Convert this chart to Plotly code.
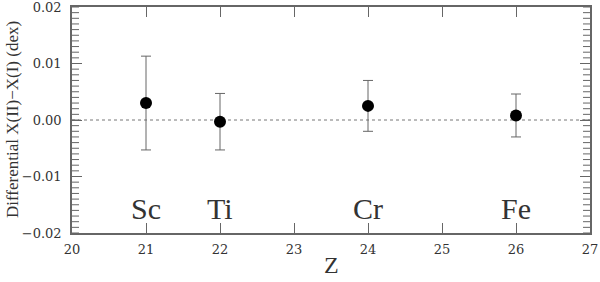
import plotly.graph_objects as go

elements = ["Sc", "Ti", "Cr", "Fe"]
z_values = [21, 22, 24, 26]
diff_values = [0.0030, -0.0003, 0.0025, 0.0008]
err_plus = [0.0083, 0.0050, 0.0045, 0.0038]
err_minus = [0.0083, 0.0050, 0.0045, 0.0038]
label_y = -0.0156

x_tick_start, x_tick_step = 20, 1
y_tick_start, y_tick_step, y_minor_step = 0.0, 0.01, 0.001
x_range = [20, 27]
y_range = [-0.02, 0.02]

tick_font = "DejaVu Serif"
label_font = "Liberation Serif"
axis_color = "#666666"
text_color = "#333333"

fig = go.Figure()

# minor tick marks along both vertical frame edges (clipped to the inside)
n_minor = int(round((y_range[1] - y_range[0]) / y_minor_step)) + 1
minor_y = [y_range[0] + i * y_minor_step for i in range(n_minor)]
fig.add_trace(go.Scatter(
    x=[x_range[0]] * n_minor + [x_range[1]] * n_minor,
    y=minor_y + minor_y,
    mode="markers", cliponaxis=True,
    marker=dict(symbol="line-ew", size=10, color=axis_color,
                line=dict(color=axis_color, width=1)),
    showlegend=False, hoverinfo="skip",
))

fig.add_trace(go.Scatter(
    x=z_values, y=diff_values,
    mode="markers",
    marker=dict(color="black", size=12),
    error_y=dict(type="data", symmetric=False, array=err_plus, arrayminus=err_minus,
                 color="#666666", thickness=1, width=5),
    showlegend=False,
))

fig.add_hline(y=0, line=dict(color="#777777", width=1, dash="dot"), layer="below")

for el, z in zip(elements, z_values):
    fig.add_annotation(x=z, y=label_y, text=el, showarrow=False,
                       font=dict(family=label_font, size=30, color=text_color),
                       yanchor="middle", xanchor="center")

# axis titles
fig.add_annotation(xref="paper", yref="paper", x=0.5, y=0, yshift=-32,
                   text="Z", showarrow=False, xanchor="center", yanchor="middle",
                   font=dict(family=label_font, size=24, color=text_color))
fig.add_annotation(xref="paper", yref="paper", x=0, y=0.5, xshift=-60,
                   text="Differential X(II)\u2212X(I) (dex)", textangle=-90,
                   showarrow=False, xanchor="center", yanchor="middle",
                   font=dict(family=label_font, size=17, color=text_color))

fig.update_layout(
    width=600, height=282,
    margin=dict(l=72, r=10, t=7, b=49),
    plot_bgcolor="white", paper_bgcolor="white",
    xaxis=dict(
        range=x_range, tickmode="linear", tick0=x_tick_start, dtick=x_tick_step,
        ticks="inside", ticklen=10,
        tickcolor=axis_color, linecolor=axis_color, linewidth=1.5, mirror="ticks",
        showline=True, showgrid=False, zeroline=False, automargin=False,
        tickfont=dict(family=tick_font, size=13, color=text_color),
        ticklabelstandoff=4, ticklabeloverflow="allow",
    ),
    yaxis=dict(
        range=y_range, tickmode="linear", tick0=y_tick_start, dtick=y_tick_step,
        tickformat=".2f", ticks="inside", ticklen=10,
        tickcolor=axis_color, linecolor=axis_color, linewidth=1.5, mirror="ticks",
        showline=True, showgrid=False, zeroline=False, automargin=False,
        tickfont=dict(family=tick_font, size=13, color=text_color),
        ticklabelstandoff=6, ticklabeloverflow="allow",
    ),
)

fig.write_html("out.html", config={"displayModeBar": False},
               post_script="document.body.style.margin='0';")
